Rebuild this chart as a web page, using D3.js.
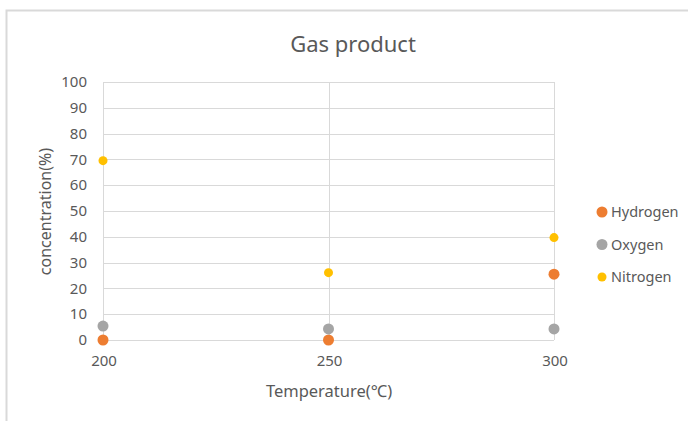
<!DOCTYPE html>
<html><head><meta charset="utf-8">
<script src="https://cdn.jsdelivr.net/npm/d3@7"></script>
<style>
html,body{margin:0;padding:0;background:#fff;}
text{font-family:"Noto Sans","Noto Sans CJK SC",sans-serif;fill:#595959;}
</style></head>
<body><svg id="c" width="688" height="421"></svg>
<script>
const temperatures = [200, 250, 300];
const hydrogen = [0, 0, 25.5];
const oxygen = [5.4, 4.3, 4.3];
const nitrogen = [69.5, 26.1, 39.7];
const seriesNames = ["Hydrogen", "Oxygen", "Nitrogen"];
const seriesColors = ["#ED7D31", "#A5A5A5", "#FFC000"];
const yTicks = [0,10,20,30,40,50,60,70,80,90,100];
const xTicks = [200, 250, 300];
const title = "Gas product";
const xTitle = "Temperature(℃)";
const yTitle = "concentration(%)";

const svg = d3.select("#c");
// chart border
svg.append("path").attr("d","M6.5,421V10.5H688").attr("fill","none").attr("stroke","#d9d9d9").attr("stroke-width",2);

const x = d3.scaleLinear().domain([200,300]).range([103,554]);
const y = d3.scaleLinear().domain([0,100]).range([340,82]);

// horizontal gridlines
svg.append("g").selectAll("line").data(yTicks).join("line")
  .attr("x1",x(200)).attr("x2",x(300))
  .attr("y1",d=>Math.round(y(d))+0.5).attr("y2",d=>Math.round(y(d))+0.5)
  .attr("stroke","#d9d9d9").attr("stroke-width",1);
// vertical gridlines
svg.append("g").selectAll("line").data(xTicks).join("line")
  .attr("y1",y(0)).attr("y2",y(100))
  .attr("x1",d=>Math.round(x(d))+0.5).attr("x2",d=>Math.round(x(d))+0.5)
  .attr("stroke","#d9d9d9").attr("stroke-width",1);

// y tick labels
svg.append("g").selectAll("text").data(yTicks).join("text")
  .attr("x",87).attr("y",d=>y(d)).attr("dy","0.35em")
  .attr("text-anchor","end").attr("font-size",15).text(d=>d);
// x tick labels
svg.append("g").selectAll("text").data(xTicks).join("text")
  .attr("x",d=>x(d)+1).attr("y",361).attr("dy","0.35em")
  .attr("text-anchor","middle").attr("font-size",15).text(d=>d);

// titles
svg.append("text").attr("x",353).attr("y",44).attr("dy","0.35em").attr("text-anchor","middle")
  .attr("font-size",22).text(title);
svg.append("text").attr("x",329).attr("y",391).attr("dy","0.35em").attr("text-anchor","middle")
  .attr("font-size",16.5).text(xTitle);
svg.append("text").attr("transform","translate(45,211.5) rotate(-90)").attr("dy","0.35em").attr("text-anchor","middle")
  .attr("font-size",16).text(yTitle);

// points
const series = [hydrogen, oxygen, nitrogen];
const radii = [5.5, 5.5, 4.5];
series.forEach((vals,i)=>{
  svg.append("g").selectAll("circle").data(vals).join("circle")
    .attr("cx",(d,j)=>x(temperatures[j])).attr("cy",d=>y(d))
    .attr("r",radii[i]).attr("fill",seriesColors[i]);
});

// legend
const lg = svg.append("g");
seriesNames.forEach((n,i)=>{
  const ly = 212 + i*32.5;
  lg.append("circle").attr("cx",602).attr("cy",ly).attr("r",radii[i]).attr("fill",seriesColors[i]);
  lg.append("text").attr("x",611).attr("y",ly).attr("dy","0.35em").attr("font-size",14.5).text(n);
});
</script></body></html>
